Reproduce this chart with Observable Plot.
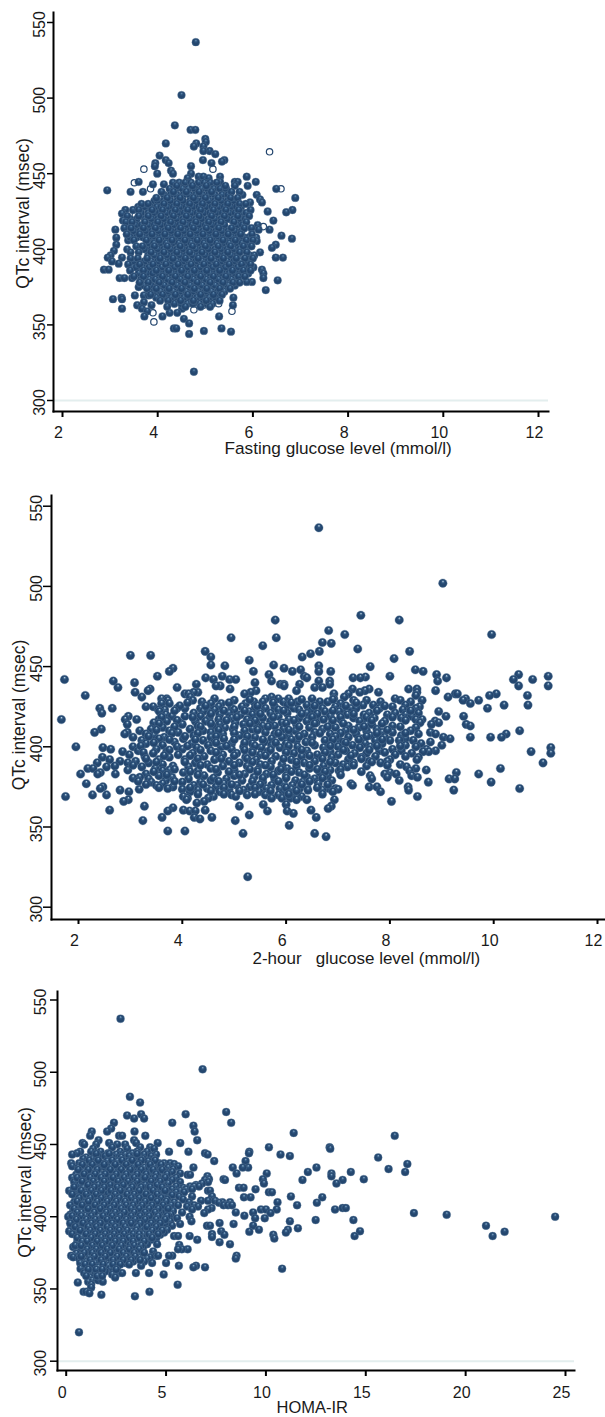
<!DOCTYPE html>
<html>
<head>
<meta charset="utf-8">
<script src="https://cdn.jsdelivr.net/npm/d3@7"></script>
<script src="https://cdn.jsdelivr.net/npm/@observablehq/plot@0.6"></script>
<style>
html,body{margin:0;padding:0;background:#fff}
svg{display:block;background:#fff}
</style>
</head>
<body>
<div id="chart"></div>
<script>
const qtcTicks = [300, 350, 400, 450, 500, 550];
const glucoseTicks = [2, 4, 6, 8, 10, 12];
const homaTicks = [0, 5, 10, 15, 20, 25];
const qtcTitle = "QTc interval (msec)";

// Each row: [QTc, [x values at that QTc]]
const fastingOpen = [[3.71,453],[3.51,444],[3.85,440],[6.59,440],[6.35,464.5],[5.16,453],[3.53,422.5],[5.86,415],[6.22,415],[5.56,419],[5.8,393],[4.02,370],[3.9,358],[3.92,352],[4.3,365.5],[4.76,360],[4.96,363],[5.28,364],[5.56,359]];

const fastingOuter = [[537,[4.8]],[502,[4.5]],[482,[4.36]],[479,[4.69,4.79]],[473,[5]],[471,[5.01]],[470,[4.17,4.81]],[468,[4.76,4.96]],[465,[5.09,4.96]],[463,[5.21]],[462,[4.04]],[459,[4.17,4.95,5.4]],[458,[5.35]],[457,[3.95,4.23,5.13]],[455,[4.7,3.94]],[452,[4.28]],[450,[3.99,4.32,4.7]],[448,[4.86,4.96,5.31,5.87]],[447,[4.63,5.07]],[444.6,[3.6,5.31,5.62,6.06,5.68]],[443,[3.9,4.13]],[442,[5.89]],[440,[6.49]],[439,[2.94]],[438,[3.43,3.69]],[436,[5.78,6.08]],[434,[6.89]],[433,[6.15]],[431,[6.19,5.94]],[428,[3.59]],[426,[3.32,6.83]],[425,[6.31]],[424.5,[6.7]],[423.6,[3.25]],[419,[3.27,6.43,3.53]],[416,[6.1]],[415,[3.5]],[413,[3.11,6.35,6.12,3.46]],[409,[6.6]],[407.7,[3.13,6.07]],[407,[6.82]],[406,[3.38]],[405.5,[6.08]],[403,[3.13,6.48]],[401,[6.4]],[400,[3.36]],[399,[3.08]],[398,[3.43,6.15]],[396,[3.01,6.03]],[394.5,[2.95,3.25,6.48,6.63]],[392,[3.04]],[390.5,[3.18]],[388,[3.46,6.01]],[386.5,[2.87,2.97,6.19]],[384,[6.22]],[381,[3.2,3.3,3.46,6.22]],[379.5,[6.52]],[378.4,[5.98,5.87]],[375,[3.6]],[373,[6.27]],[369.5,[3.52,3.71,3.81]],[368,[3.24,5.59]],[367,[3.06,3.25]],[365,[3.71]],[363,[3.57,3.87,5.58]],[360.7,[3.25,3.67,4.51]],[359,[3.78]],[358,[4.41,4.25]],[355.6,[4.1,3.72,5.29]],[354,[4.55]],[351,[4.66]],[347.7,[4.34,5.34,4.39]],[346,[4.97]],[345.5,[5.54]],[344,[4.66]],[319,[4.76]]];

const fastingCore = [[444,[4.32,4.45,4.58,4.7,4.86,4.98,5.1,5.24]],[440,[4.25,4.38,4.52,4.64,4.78,4.92,5.05,5.18,5.31,5.44]],[436,[4.13,4.27,4.4,4.54,4.67,4.8,4.94,5.07,5.2,5.35,5.48]],[432,[3.93,4.0,4.13,4.27,4.41,4.53,4.68,4.81,4.93,5.08,5.2,5.34,5.47,5.6]],[428,[3.72,3.85,3.98,4.07,4.2,4.33,4.47,4.6,4.73,4.87,5.0,5.14,5.27,5.4,5.53,5.66,5.75]],[424,[3.65,3.8,3.92,4.04,4.17,4.3,4.43,4.56,4.7,4.83,4.96,5.1,5.22,5.36,5.5,5.63,5.77,5.86]],[420,[3.42,3.56,3.73,3.87,4.0,4.13,4.27,4.4,4.53,4.67,4.8,4.92,5.06,5.2,5.33,5.46,5.6,5.74,5.84]],[416,[3.4,3.53,3.66,3.8,3.93,4.06,4.2,4.33,4.46,4.6,4.72,4.86,5.0,5.13,5.26,5.4,5.66,5.78]],[412,[3.37,3.5,3.63,3.75,3.88,4.02,4.15,4.28,4.42,4.55,4.68,4.82,4.95,5.08,5.22,5.35,5.48,5.62,5.76]],[408,[3.42,3.56,3.69,3.82,3.95,4.08,4.22,4.35,4.48,4.62,4.75,4.88,5.02,5.15,5.28,5.42,5.55,5.68,5.8,5.92]],[404,[3.82,3.92,4.05,4.18,4.3,4.44,4.57,4.7,4.84,4.97,5.1,5.24,5.37,5.5,5.64,5.77,5.9]],[400,[3.73,3.87,4.0,4.13,4.27,4.4,4.53,4.66,4.8,4.93,5.06,5.2,5.33,5.46,5.6,5.72,5.85]],[396,[3.8,3.94,4.07,4.2,4.34,4.47,4.6,4.74,4.87,5.0,5.14,5.27,5.4,5.54,5.67,5.93]],[392,[3.5,3.72,3.86,4.0,4.13,4.26,4.4,4.53,4.66,4.8,4.93,5.06,5.2,5.33,5.46,5.6,5.74,5.88]],[388,[3.55,3.68,3.82,3.95,4.08,4.22,4.35,4.48,4.62,4.75,4.88,5.02,5.15,5.28,5.42,5.55,5.68,5.82]],[384,[3.6,3.76,3.9,4.03,4.16,4.3,4.43,4.56,4.7,4.83,4.96,5.1,5.23,5.36,5.5,5.63,5.76,5.9]],[380,[3.65,3.82,3.95,4.08,4.22,4.35,4.48,4.62,4.75,4.88,5.02,5.15,5.28,5.42,5.55,5.68]],[376,[3.72,3.86,4.0,4.14,4.28,4.41,4.54,4.68,4.81,4.94,5.08,5.21,5.34,5.48,5.62]],[372,[3.92,4.06,4.2,4.33,4.46,4.6,4.73,4.86,5.0,5.13,5.26,5.4]],[368,[3.97,4.15,4.28,4.42,4.55,4.68,4.82,4.95,5.08,5.22]],[364,[4.35,4.5,4.62,4.74,4.88,5.02,5.15]]];

const fastingExtra = [[442,[4.4,4.73,5.02,5.42,5.62]],[438,[4.08,4.33,4.6,4.87,5.13,5.55,5.72]],[434,[3.97,4.2,4.47,4.75,5.0,5.27,5.53,5.68]],[430,[3.66,3.8,4.13,4.4,4.67,4.94,5.2,5.47,5.72,5.85]],[426,[3.48,3.6,3.88,4.1,4.37,4.63,4.9,5.17,5.43,5.7,5.95]],[422,[3.36,3.6,3.8,4.07,4.33,4.6,4.87,5.13,5.4,5.68,5.92]],[418,[3.33,3.46,3.73,4.0,4.27,4.53,4.8,5.07,5.33,5.6,5.86]],[414,[3.3,3.44,3.7,3.95,4.22,4.48,4.75,5.02,5.28,5.55,5.82,5.97]],[410,[3.35,3.62,3.88,4.15,4.42,4.68,4.95,5.22,5.48,5.74,5.98]],[406,[3.5,3.76,4.03,4.3,4.57,4.83,5.1,5.37,5.63,5.86,6.0]],[402,[3.55,3.68,3.93,4.2,4.47,4.73,5.0,5.27,5.53,5.8,5.97]],[398,[3.6,3.86,4.13,4.4,4.67,4.93,5.2,5.47,5.72,5.87]],[394,[3.43,3.58,3.78,4.05,4.32,4.58,4.85,5.12,5.38,5.65,5.83,6.0]],[390,[3.38,3.62,3.9,4.17,4.43,4.7,4.97,5.23,5.5,5.76,5.95]],[386,[3.42,3.7,3.97,4.23,4.5,4.77,5.03,5.3,5.57,5.8,5.95]],[382,[3.5,3.7,4.1,4.37,4.63,4.9,5.17,5.43,5.7,5.83]],[378,[3.62,3.8,4.03,4.3,4.57,4.83,5.1,5.37,5.58,5.72]],[374,[3.78,3.97,4.24,4.5,4.77,5.03,5.3,5.52]],[370,[3.85,4.1,4.37,4.63,4.9,5.17,5.35]],[366,[4.05,4.22,4.48,4.75,5.02,5.3]],[362,[4.2,4.58,4.9,5.1]]];

const twoHourRows = [[536.6,[6.63]],[502,[9.02]],[482,[7.44]],[479,[5.79,8.18]],[472.5,[6.82]],[470,[7.13,9.96]],[468,[5.81,4.94]],[465,[6.7]],[464.5,[6.87]],[463,[5.55]],[461,[7.38]],[459.5,[4.44,8.38,6.64]],[458,[6.47]],[457,[3.0,3.39]],[456,[4.55,6.31]],[455,[8.08]],[454,[5.29]],[451,[4.55,5.76]],[450.5,[4.82,6.63]],[450,[7.62]],[449,[3.82,5.96]],[448,[6.28,8.49]],[447,[3.75,6.12,6.63,6.86,5.37,8.64]],[445,[8.9,5.67,10.48]],[444,[8.0,3.52,4.77,6.35,11.05]],[443.5,[7.53]],[443,[4.45,7.29,7.43,9.09,6.4]],[442,[1.73,4.6,4.91,5.03,10.38,10.75]],[441,[2.67,5.72,6.63,6.84,8.92]],[440,[3.08,5.4]],[439,[5.89,5.96,6.26,6.84,4.27]],[438,[5.96,4.73,10.48,11.05,4.65]],[437,[2.76,3.9,6.55,6.7]],[436,[3.38,4.92,8.36,8.52,7.28,7.6]],[435,[3.34,6.2,8.88,7.52,5.42]],[434,[3.09,4.3,4.22,5.32,7.42,7.78,8.52]],[433,[4.05,9.26,9.3,10.05,4.12,5.2,6.92,7.2]],[432,[2.13,9.92,10.65,8.5]],[431,[3.22,4.15,5.72,9.12,7.12]],[430,[3.6,3.7,4.62,5.6,5.85,6.05,6.5,6.92,8.1,9.46]],[429,[3.72,4.2,5.0,7.3,7.55,8.2,8.62,9.41,9.71]],[428,[4.38,5.38,5.55,5.95,6.22,6.65,6.8,7.82,8.4]],[427,[3.6,3.75,4.55,4.75,5.22,9.55,7.05]],[426,[6.03,6.4,7.48,7.68,8.3,10.2,10.66]],[425,[3.3,3.44,4.7,5.15,5.78,6.95,8.05,8.57]],[424,[2.41,2.65,3.9,4.05,4.35,4.95,5.4,5.6,6.15,6.7,7.25,7.35,7.8,8.5,9.88]],[423,[3.54,3.66,4.5,4.62,5.0,5.85,6.25,6.5,7.08,8.25]],[422,[3.56,4.4,5.28,5.5,6.75,7.02,8.94]],[421,[2.45,4.22,4.9,5.7,6.02,6.4,7.6,8.1,8.55]],[420,[3.68,4.72,5.12,5.35,7.18,7.5,7.95,8.3]],[419,[2.96,3.8,4.05,4.35,5.85,6.58,6.85,9.08,9.42,8.42]],[418,[4.52,4.95,5.55,6.25,7.3,7.7,8.22]],[417,[1.67,2.9,3.12,3.55,4.7,5.25,6.05,6.72,7.05,8.5,8.62]],[416,[3.7,4.25,4.45,5.7,6.4,7.42,7.9,8.87]],[415,[3.45,3.95,5.02,5.42,5.92,6.58,8.94,8.58]],[414,[2.94,4.0,4.72,5.18,6.2,6.88,7.55,7.65,8.8,9.47]],[413,[4.3,4.58,5.55,5.78,7.2,8.05,9.55]],[412,[3.62,4.82,6.45,6.95,7.4,8.5]],[411,[2.44,3.4,4.15,4.98,5.35,5.95,6.7,7.75]],[410,[3.18,3.75,4.4,5.2,6.18,7.15,7.55,10.5,8.4]],[409,[2.31,2.94,3.92,4.55,5.6,6.55,7.85,8.05,8.78]],[408,[2.89,3.3,4.78,5.78,6.35,6.85,7.35,8.55,8.88,10.24]],[407,[3.45,4.22,5.1,6.05,7.62,8.22]],[406,[3.05,3.65,4.55,5.4,5.92,6.5,7.2,7.9,9.03,9.94,10.15,9.55]],[405,[3.55,4.02,4.8,5.72,7.0,7.45,8.3,9.16]],[404,[3.22,4.4,5.25,6.2,6.75,7.72,8.0,8.18,8.45]],[403,[3.85,4.62,5.58,6.38,7.1,8.78]],[402,[3.3,4.18,4.95,5.35,6.0,6.95,7.52,7.85,8.6]],[401,[3.62,4.5,5.72,6.55,7.28,8.3,9.0]],[400,[1.95,3.05,3.9,4.75,5.18,6.22,7.0,7.62,8.5]],[399.5,[2.47,11.1,4.28,5.52,5.88,6.72,7.42]],[398.5,[2.62,3.5,4.0,4.95,6.02,8.05,8.7]],[397.5,[3.15,4.55,5.35,6.4,7.15,7.8,8.22,8.88]],[397,[2.85,3.7,5.65,6.85,8.75,8.64,10.72]],[396,[3.44,4.2,5.05,6.15,7.32,7.55,8.42,11.1]],[395,[2.98,3.92,4.78,5.5,6.6,7.0,8.1]],[394,[3.28,4.42,5.8,6.3,7.72,8.3]],[393.5,[2.46,3.75,5.22,6.88,7.45,8.55]],[392,[2.6,3.55,4.05,4.62,5.42,6.1,7.2,8.0,8.52]],[391,[2.8,3.1,4.9,5.72,6.55,7.6,7.95]],[390,[2.36,2.95,3.35,4.25,5.1,6.35,6.95,7.3,7.82,10.95]],[389,[3.62,4.48,5.5,5.92,7.1,8.2]],[388,[2.7,3.82,4.78,5.25,6.2,6.72,7.55]],[387.5,[2.54,3.22,4.12,5.7,7.18,8.32]],[386.5,[2.18,2.28,3.48,4.55,6.02,6.45,8.5,10.13]],[385.5,[2.95,3.75,5.0,5.45,6.85,8.7]],[385,[3.62,4.3,5.85,7.02,8.38]],[384,[2.42,4.02,4.68,6.25,6.65,8.0,9.28]],[383,[2.04,2.37,2.71,3.3,5.2,5.62,7.9,8.12,9.71]],[382,[3.55,4.42,5.0,6.0,6.8,7.62,8.42]],[381,[3.18,3.8,5.38,6.4,7.95,8.53]],[380,[3.35,4.12,4.85,5.78,6.55,7.65,9.14,9.25]],[379,[3.68,4.55,5.15,6.18,6.88,8.18]],[378,[3.4,4.0,4.35,5.55,6.32,9.95,8.74]],[377,[2.15,3.62,4.8,5.95,6.62,7.25]],[376,[3.5,4.22,5.05,5.72,6.12,7.28]],[375,[2.47,3.82,4.65,5.3,6.4,7.6,7.75,8.35]],[374,[2.42,3.72,4.48,5.62,5.88,6.82,6.95,10.5]],[373.5,[3.17,4.0,4.9,6.1,6.25,7.0]],[373,[2.8,4.3,5.18,6.42,6.7,8.36,9.23]],[372,[2.97,4.15,4.72,5.48,5.95,7.82,6.9]],[370,[2.27,2.54,4.95,5.25,5.6,5.85,6.18]],[369,[1.75,4.02,4.6,5.03,6.3,8.53]],[368,[4.1,4.5,5.72,5.92,6.08]],[367,[2.96,4.08,6.4,6.93,6.2]],[366,[2.87,4.42,8.03]],[365,[4.28]],[364,[5.56,6.0]],[363,[3.27,5.1,6.87]],[362,[3.82]],[361.5,[6.81]],[360.5,[2.6,4.02,4.44,6.48]],[360,[3.72,4.14,4.25,5.64,6.02]],[358.5,[6.14]],[357.5,[5.29]],[356,[3.61,4.23,4.57,6.58]],[355,[4.34]],[354,[3.24,5.02]],[351,[6.06]],[347.5,[4.05,3.72]],[346,[5.17,6.55]],[344,[6.77]],[319,[5.26]]];

const twoHourExtra = [[429.5,[5.3,6.3,6.9]],[427.5,[4.1,4.9,5.75,6.1,7.35]],[425.5,[3.95,4.45,5.45,6.55,7.15,7.9]],[422.5,[3.85,4.8,5.2,5.95,6.9,7.75,8.4]],[420.5,[4.55,5.5,6.3,6.6,7.3]],[418.5,[3.6,4.2,5.05,5.75,6.5,7.05,7.55,8.05]],[416.5,[3.9,4.85,5.4,6.15,6.9,7.65,8.3]],[414.5,[3.55,4.55,5.3,6.0,6.55,7.1,7.85]],[412.5,[3.85,4.35,5.0,5.65,6.25,6.8,7.5,8.2]],[410.5,[3.5,4.7,5.45,6.05,7.3,7.95]],[408.5,[3.8,4.3,5.0,5.85,6.65,7.05,7.75,8.3]],[406.5,[3.35,4.05,4.65,5.25,6.25,6.95,7.55]],[404.5,[3.75,4.25,5.0,5.55,6.1,6.9,7.4,7.85]],[402.5,[3.45,4.65,5.2,5.8,6.5,7.15]],[400.5,[3.2,4.1,4.85,5.4,6.05,6.85,7.75,8.2]],[398,[3.75,4.35,5.2,5.7,6.3,7.1,7.6]],[396.5,[3.25,4.65,5.35,6.0,6.75,7.9]],[394.5,[3.65,4.15,5.0,5.6,6.45,7.25]],[392.5,[3.3,4.3,4.75,5.25,5.95,6.7,7.45]],[390.5,[3.5,4.05,5.35,6.2,6.85,7.65]],[388.5,[3.05,4.35,5.0,5.6,6.45,7.3,7.95]],[386,[3.85,4.65,5.3,5.9,6.6,7.05]],[384.5,[3.45,4.15,4.9,5.45,6.1,6.75,7.45]],[382.5,[3.7,4.3,5.1,5.75,6.35,7.05]],[380.5,[3.05,4.6,5.55,6.0,6.7]],[378.5,[3.15,3.85,4.7,5.35,5.85,6.45]],[376.5,[3.3,4.4,4.95,5.5,6.3,6.8]],[374.5,[3.55,4.15,4.8,5.4,6.0,6.6]],[372.5,[4.55,5.1,5.7,6.2]],[370.5,[4.3,4.8,5.4,6.05,6.7]]];

const homaRows = [[537,[2.72]],[502,[6.83]],[483,[3.19]],[479,[3.7]],[472.5,[8.01]],[471,[5.98,3.75]],[470,[3.05]],[468,[3.4,3.9]],[465,[8.26,5.31,2.39]],[463,[6.37]],[461,[2.25]],[459,[1.28,3.42,6.43,2.05]],[458,[11.39]],[456,[16.45,2.65,2.8,1.2,3.96]],[453,[6.56,1.62,3.4]],[451,[5.71,0.82,2.15,3.5,4.58]],[450,[0.9,1.5,2.55,2.95]],[448,[13.19,10.15,3.7,4.2,2.3]],[447,[13.22,4.4,1.35,3.05]],[445,[5.15,6.12,1.25,0.7,1.72,2.7,3.55,4.05,9.17]],[444,[6.95,0.55,2.1,3.3,9.15]],[443,[7.08,10.73,0.3,2.5,2.95,3.9,4.5]],[442,[11.2,1.6,1.95,4.25,3.15]],[441,[15.62,1.0,2.3,2.75,3.6]],[440,[0.85,1.3,3.35,3.85,4.35]],[438.5,[7.41,8.98,2.05,2.55,3.1,4.1]],[437,[0.25,0.65,1.0,1.75,3.65,4.65,4.9,5.2]],[436.5,[17.08,1.45,2.85,5.4]],[435,[0.3,2.25,3.4,4.4,5.6]],[434,[6.37,8.34,9.11,8.84,12.53,0.6,1.15,1.95,2.65,3.15,3.9,4.7,5.1]],[433,[16.14,1.6,4.15,5.35]],[431,[12.1,14.25,16.97,0.85,2.4,3.55,4.5,4.95,5.3]],[430,[10.04,8.53,13.28,1.3,2.05,2.85,3.3,4.2,5.7]],[429,[6.08,6.2,0.5,1.7,3.8]],[428,[7.07,13.28,1.0,2.55,3.1,4.6,5.05]],[427,[0.3,1.4,2.2,3.55,4.35,5.5]],[426,[14.9,7.88,9.85,0.7,1.85,2.8,3.9,4.85,7.15]],[425.5,[11.83,13.84,7.95,1.1,3.25,5.3,6.95]],[424,[0.4,1.55,2.45,4.1,5.7,7.1]],[423,[13.53,9.9,0.95,2.0,3.0,3.65,4.65,5.1,6.8]],[422,[0.65,1.3,2.7,4.35,6.5]],[421,[1.75,3.35,3.85,4.9,5.5,6.2,6.4,6.65]],[420,[8.65,8.88,0.85,2.25,3.05,4.45,5.85]],[419,[9.48,1.15,1.95,2.85,3.6,5.05,5.3,6.0,6.3]],[418,[0.15,7.1,0.5,2.5,4.1,4.75,5.7,7.2]],[417,[10.15,10.3,0.95,1.55,3.3,3.85,5.5,5.9]],[416,[0.7,2.1,2.95,4.45,5.1]],[415,[1.3,1.75,2.65,3.55,4.2,4.9,5.3]],[414,[11.25,0.45,2.3,3.15,5.65,6.3,7.3]],[413.4,[12.82,8.9,9.23,0.95,1.5,3.8,4.55]],[412,[0.75,2.05,2.85,3.4,5.05,5.85]],[411,[1.25,2.5,4.05,4.8,6.75,7.1,7.45]],[410,[10.58,7.82,8.2,0.4,1.7,3.1,3.65,5.4,6.15]],[409.7,[12.55,0.9,2.25,4.35,7.65]],[408,[11.56,7.88,8.1,8.3,0.2,1.35,2.7,4.6,5.25,5.6,6.4]],[407,[0.6,1.95,3.25,3.9,5.0,6.05,6.6]],[406,[13.84,14,0.95,2.4,3.5,4.25,7.28]],[405,[13.46,9.75,10,10.54,1.55,2.95,4.75,7.1,6.3]],[404,[0.35,1.2,2.15,3.7,4.4,5.35]],[403,[8.49,9.36,0.75,1.75,3.1,5.0,5.8]],[402.5,[17.41,10.23,6.91,2.6,4.0]],[401.4,[19.05,0.2,1.35,3.4,4.65,5.25]],[400.7,[8.92,0.95,2.05,2.85,3.85]],[400,[24.48,0.1,1.6,4.3,5.15,6.18]],[399,[9.94,9.46,0.6,2.4,3.2,5.55]],[397.7,[14.38,12.49,1.1,3.6,4.05,4.8]],[396.8,[11.2,6.27,0.45,1.9,2.75,5.2]],[395.6,[7.68,1.4,3.05,3.9,4.45]],[395,[8.38,0.8,2.2,4.95,5.7]],[393.8,[21.02,9.36,0.25,1.65,2.55,3.4,7.05,7.2,5.3]],[392,[11.6,1.05,3.75,4.3]],[391,[11.1,9.65,0.55,2.0,2.9,4.75,5.05]],[390,[14.71,7.76,0.15,1.4,3.25,4.05]],[389.6,[21.95,9.17,0.85,2.35,3.6,4.55]],[389,[11.0,1.8,4.9]],[388,[7.3,0.4,1.2,2.7,3.1,3.85]],[387.5,[10.37,7.92,1.55,4.3,4.7]],[386.6,[21.35,14.44,6.18,5.4,5.6,2.1]],[386,[7.3,0.75,3.45,4.05]],[385,[10.42,1.0,2.45,2.9,4.5]],[384,[6.56,1.7,3.3,3.75,4.25]],[382.4,[7.68,0.55,1.3,2.15,3.0]],[381,[8.2,0.95,2.6,3.55,4.05,4.55]],[380.5,[5.66,1.55,2.05,3.2]],[379,[0.35,1.2,2.85,3.85]],[377.5,[6.08,5.79,5.6,0.75,1.8,2.4,3.4]],[376,[1.05,2.15,3.0,3.75,4.35]],[374.5,[0.5,1.45,2.65,3.3]],[373,[8.53,5.31,5.15,0.25,1.9,2.4,4.5,4.6]],[372,[0.35,1.15,3.05,3.65,4.2]],[371,[8.49,0.65,1.6,2.2,2.75,4.05]],[369,[1.0,1.85,3.35,3.9]],[368,[5.0,0.7,1.45,2.5,2.95,4.3]],[366,[6.5,5.64,1.2,2.1,3.75]],[365,[6.37,6.95,1.6,2.55]],[364,[10.81,0.72,1.05,2.2]],[362,[1.25,1.95,2.35]],[361,[4.15,3.49,2.6,2.8,0.9]],[360,[4.88,2.3,1.1,1.45]],[358,[1.2,2.45]],[356,[1.3,1.6]],[355,[1.83,1.1]],[354.4,[0.58]],[353,[5.58,1.25]],[351,[1.25]],[348,[4.17,0.87,1.0]],[347,[1.16]],[346,[1.76]],[345,[3.44]],[320,[0.64]]];

const homaExtra = [[443.5,[1.5,2.15,3.55]],[439,[1.15,1.6,2.3,2.8,3.3,3.75,4.45]],[436,[0.8,1.3,1.9,2.45,3.0,3.6,4.2,4.75]],[432.5,[0.6,1.1,1.55,2.2,2.75,3.2,3.75,4.35,4.8]],[429.5,[0.9,1.45,1.95,2.5,3.0,3.55,4.0,4.5,5.05]],[427,[0.55,1.2,1.75,2.35,2.9,3.4,3.95,4.45,4.95]],[424.5,[0.8,1.35,1.9,2.6,3.1,3.55,4.25,4.7]],[422,[1.1,1.6,2.2,2.85,3.35,3.95,4.55]],[420.5,[0.4,1.4,1.9,2.55,3.3,3.75,4.2,4.8]],[418,[0.75,1.25,1.75,2.25,2.7,3.15,3.65,4.35,4.95]],[415.5,[0.3,1.0,1.5,2.45,3.05,3.4,4.0,4.55]],[413,[0.65,1.2,1.75,2.2,2.65,3.25,3.65,4.25,4.75]],[410.5,[0.55,1.1,1.55,2.05,2.5,2.95,3.45,3.95,4.55,5.0]],[408,[0.8,1.45,1.9,2.4,3.0,3.35,3.8,4.3,4.85]],[405.5,[0.4,1.1,1.7,2.2,2.75,3.25,3.65,4.15,4.6,5.1]],[403,[0.55,1.4,2.0,2.45,2.9,3.4,3.95,4.45]],[400.5,[0.3,0.75,1.25,1.85,2.3,2.7,3.25,3.7,4.15,4.6,5.05]],[398,[0.5,1.0,1.45,2.05,2.55,3.0,3.45,3.95,4.5,4.95]],[395.5,[0.2,0.85,1.25,1.7,2.3,2.85,3.25,3.7,4.25,4.7]],[393,[0.45,1.1,1.5,2.05,2.45,2.95,3.55,4.05,4.5]],[390.5,[0.7,1.2,1.7,2.2,2.65,3.05,3.5,4.3,4.8]],[388,[0.3,1.0,1.45,1.95,2.4,2.9,3.35,3.65,4.15,4.6]],[385.5,[0.55,1.25,1.75,2.2,2.65,3.15,3.65,4.3]],[383,[0.8,1.05,1.55,1.95,2.45,2.85,3.35,3.9]],[380,[0.45,0.75,1.3,1.8,2.3,2.75,3.4,3.75]],[377.5,[1.05,1.5,2.05,2.65,3.15,3.65]],[375,[0.9,1.3,1.75,2.2,2.85,3.4,3.9]],[372.5,[0.75,1.4,1.95,2.55,3.0,3.45]],[370,[1.2,1.75,2.35,2.85,3.25,3.7]],[367,[0.95,1.3,1.85,2.35,2.7,3.15]],[363.5,[1.1,1.5,1.8,2.5]],[359,[1.0,1.55,1.8]]];

function flatten(rows) {
  return rows.flatMap(([q, xs]) => xs.map(x => [x, q]));
}

function ballDefs(id, light) {
  return () => {
    const defs = d3.create("svg:defs");
    const g = defs.append("radialGradient").attr("id", id)
      .attr("cx", "50%").attr("cy", "50%").attr("r", "55%")
      .attr("fx", "52%").attr("fy", "25%");
    g.append("stop").attr("offset", "0%").attr("stop-color", light);
    g.append("stop").attr("offset", "28%").attr("stop-color", "#2f5680");
    g.append("stop").attr("offset", "55%").attr("stop-color", "#24466e");
    g.append("stop").attr("offset", "100%").attr("stop-color", "#244870");
    return defs.node();
  };
}

const font = "Liberation Sans, Arial, sans-serif";

function panel(o) {
  const textOpts = {fontSize: 16, fill: "#1a1a1a", fontFamily: font};
  return Plot.plot({
    width: 605,
    height: o.height,
    marginLeft: o.left,
    marginRight: 605 - o.right,
    marginTop: o.top,
    marginBottom: o.height - o.bottom,
    style: {background: "#fff", fontFamily: font},
    x: {domain: o.xDomain, range: o.xRange, axis: null},
    y: {domain: [300, 550], range: o.yRange, axis: null},
    marks: [
      ballDefs(o.id, o.light),
      o.guide ? Plot.ruleY([300], {stroke: "#e3eeee", strokeWidth: 2}) : null,
      o.open ? Plot.dot(o.open, {x: d => d[0], y: d => d[1], r: 3.2, fill: "#fff", stroke: "#24466e", strokeWidth: 1.2}) : null,
      Plot.dot(o.points, {x: d => d[0], y: d => d[1], r: o.r, fill: `url(#${o.id})`, stroke: "#5f7f9f", strokeWidth: 0.5, strokeOpacity: 0.7}),
      Plot.frame({anchor: "left", stroke: "#000", strokeWidth: 2}),
      Plot.frame({anchor: "bottom", stroke: "#000", strokeWidth: 2}),
      Plot.axisX({ticks: o.xTicks, anchor: "bottom", tickSize: o.xTickSize, fill: "none", stroke: "#000", strokeWidth: 2, label: null}),
      Plot.axisY({ticks: qtcTicks, anchor: "left", tickSize: o.yTickSize, fill: "none", stroke: "#000", strokeWidth: 1.5, label: null}),
      Plot.text(o.xTicks, {x: d => d, frameAnchor: "bottom", dx: -4, dy: o.xTickDy, lineAnchor: "middle", textAnchor: "middle", ...textOpts}),
      Plot.text(qtcTicks, {y: d => d, frameAnchor: "left", dx: o.yTickDx, dy: 2, rotate: -90, textAnchor: "middle", lineAnchor: "middle", ...textOpts}),
      Plot.text([qtcTitle], {frameAnchor: "top-left", dx: o.yTitleDx, dy: o.yTitleCy - o.top, rotate: -90, textAnchor: "middle", lineAnchor: "middle", ...textOpts, fontSize: 17.5}),
      Plot.text([o.xTitle], {frameAnchor: "bottom-left", dx: o.xTitleLeft - o.left, dy: o.xTitleDy, textAnchor: "start", lineAnchor: "middle", ...textOpts, fontSize: o.xTitleSize})
    ]
  });
}

const chart = document.getElementById("chart");
chart.append(panel({
  id: "ballA", light: "#6d93b5", height: 470, left: 53, right: 548, top: 12, bottom: 411, r: 3.9,
  xDomain: [2, 12], xRange: [62, 538], yRange: [400, 22], xTicks: glucoseTicks,
  points: flatten(fastingOuter).concat(flatten(fastingCore), flatten(fastingExtra)), open: fastingOpen, guide: true,
  xTickSize: 6, yTickSize: 6, xTickDy: 21, yTickDx: -14, yTitleDx: -30, yTitleCy: 213,
  xTitle: "Fasting glucose level (mmol/l)", xTitleLeft: 224, xTitleDy: 37, xTitleSize: 17.2
}));
chart.append(panel({
  id: "ballB", light: "#c6dbe9", height: 500, left: 51, right: 605, top: 25, bottom: 449, r: 4.3,
  xDomain: [2, 12], xRange: [78, 597], yRange: [436.7, 35.7], xTicks: glucoseTicks,
  points: flatten(twoHourRows).concat(flatten(twoHourExtra)), guide: false,
  xTickSize: 5, yTickSize: 8, xTickDy: 21, yTickDx: -15, yTitleDx: -32, yTitleCy: 244.5,
  xTitle: "2-hour\u00a0\u00a0\u00a0glucose level (mmol/l)", xTitleLeft: 252, xTitleDy: 39, xTitleSize: 17
}));
chart.append(panel({
  id: "ballC", light: "#8fb0cb", height: 447, left: 57, right: 574, top: 21, bottom: 400, r: 4,
  xDomain: [0, 25], xRange: [65.7, 565], yRange: [390.7, 29.5], xTicks: homaTicks,
  points: flatten(homaRows).concat(flatten(homaExtra)), guide: true,
  xTickSize: 6, yTickSize: 7, xTickDy: 22, yTickDx: -16.5, yTitleDx: -32, yTitleCy: 212,
  xTitle: "HOMA-IR", xTitleLeft: 276, xTitleDy: 37, xTitleSize: 16.5
}));
</script>
</body>
</html>
